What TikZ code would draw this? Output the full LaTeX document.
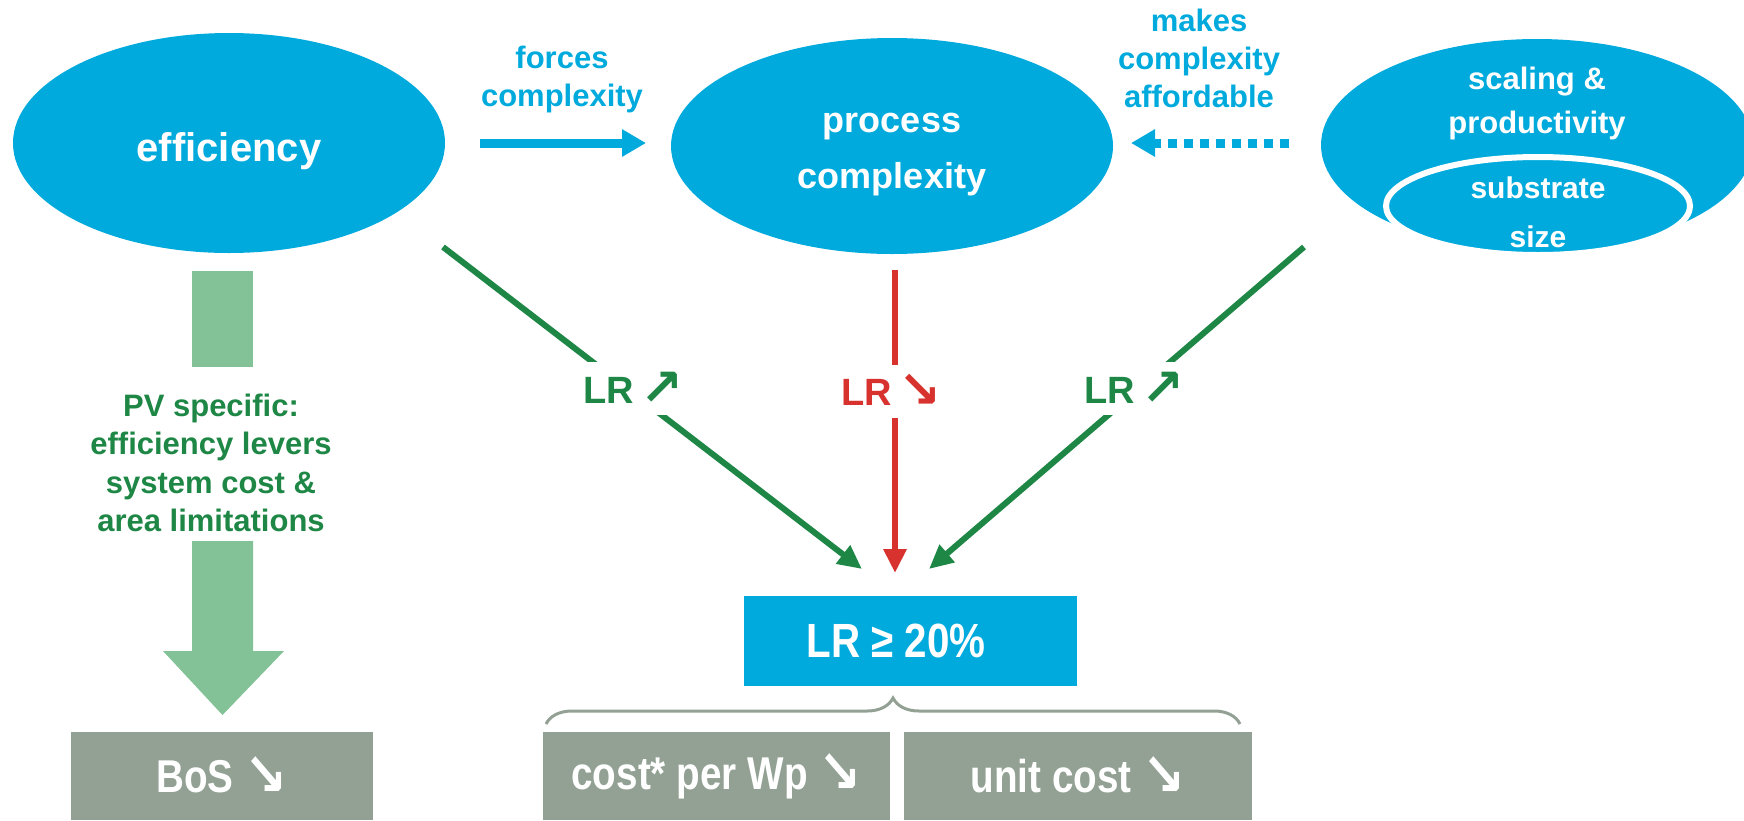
\documentclass[tikz,border=0pt]{standalone}
\usepackage{fontspec}
\setmainfont{Liberation Sans}
\newfontfamily\arrowfont{DejaVu Sans}
\newfontfamily\narrowfont[FakeStretch=0.84]{Liberation Sans}
\newfontfamily\narrowarrowfont[FakeStretch=0.86]{DejaVu Sans}
\usetikzlibrary{shapes.geometric,arrows.meta,decorations.pathreplacing}
\definecolor{cblue}{RGB}{0,170,220}
\definecolor{cgreen}{RGB}{30,135,70}
\definecolor{cred}{RGB}{215,50,45}
\definecolor{cgray}{RGB}{147,161,148}
\definecolor{chatch}{RGB}{130,194,150}
\newcommand{\myup}{\raisebox{-0.06em}{\scalebox{1.35}{\arrowfont\bfseries ↗}}}
\newcommand{\mydown}{\raisebox{-0.06em}{\scalebox{1.35}{\arrowfont\bfseries ↘}}}
\newcommand{\mydownN}{\raisebox{-0.06em}{\scalebox{1.3}{\narrowarrowfont\bfseries ↘}}}
\begin{document}
\begin{tikzpicture}[x=1pt,y=-1pt,
  blob/.style={ellipse, fill=cblue, inner sep=0pt, text=white, align=center},
  lbl/.style={text=cblue, align=center, font=\bfseries\fontsize{31}{38}\selectfont},
  gline/.style={cgreen, line width=6pt, -{Triangle[length=24pt,width=22pt]}},
  rline/.style={cred, line width=6pt, -{Triangle[length=24pt,width=22pt]}},
  lrlab/.style={fill=white, inner xsep=4pt, inner ysep=10pt, font=\bfseries\fontsize{38}{40}\selectfont},
  gbox/.style={fill=cgray, minimum height=88pt, inner sep=0pt, text=white, font=\narrowfont\bfseries\fontsize{46}{48}\selectfont},
  bluearrow/.style={cblue, line width=9pt, -{Triangle[length=24pt,width=26pt]}}
]
\useasboundingbox (0,0) rectangle (1744,820);

% ellipses
\node[blob, minimum width=432pt, minimum height=220pt] (eff) at (229,143) {};
\node[text=white, font=\bfseries\fontsize{40}{48}\selectfont] (efftxt) at (229,151) {efficiency};
\node[blob, minimum width=442pt, minimum height=216pt] (proc) at (892,146) {};
\node[text=white, align=center, font=\bfseries\fontsize{36}{56}\selectfont] (proctxt) at (892,155) {process\\complexity};
\node[blob, minimum width=432pt, minimum height=212pt] (scal) at (1537,145) {};
\node[text=white, align=center, font=\bfseries\fontsize{31}{44}\selectfont] (scaltxt) at (1537,103) {scaling \&\\productivity};
\node[ellipse, fill=cblue, draw=white, line width=6pt, minimum width=304pt, minimum height=98pt, inner sep=0pt] (sub) at (1538,206) {};
\node[text=white, align=center, font=\bfseries\fontsize{30}{49}\selectfont] (subtxt) at (1538,212) {substrate\\size};

% top labels and arrows
\node[lbl] (forces) at (562,79) {forces\\complexity};
\node[lbl] (makes) at (1199,58) {makes\\complexity\\affordable};
\coordinate (fA) at (480,143);
\coordinate (fB) at (646,143);
\draw[bluearrow] (fA) -- (fB);
\coordinate (dA) at (1289,143);
\coordinate (dB) at (1131,143);
\draw[bluearrow, dash pattern=on 9pt off 7pt] (dA) -- (dB);

% LR box
\node[fill=cblue, minimum width=333pt, minimum height=90pt, inner sep=0pt] (lr) at (910.5,641) {};
\node[text=white, font=\narrowfont\bfseries\fontsize{48}{50}\selectfont] (lrtxt) at (896,641) {LR ≥ 20\%};

% lines to LR
\coordinate (g1s) at (443,247);
\coordinate (g1e) at (862,569);
\draw[gline] (g1s) -- (g1e) node[lrlab, text=cgreen, pos=0.44, xshift=6pt] (lr1) {LR\,\myup};
\coordinate (rs) at (895,270);
\coordinate (re) at (895,573);
\draw[rline] (rs) -- (re) node[lrlab, text=cred, pos=0.40, xshift=-4pt] (lr2) {LR\,\mydown};
\coordinate (g2s) at (1304,247);
\coordinate (g2e) at (929,569);
\draw[gline] (g2s) -- (g2e) node[lrlab, text=cgreen, pos=0.44, xshift=-5pt] (lr3) {LR\,\myup};

% hatched arrow (left)
\fill[chatch] (192,271) rectangle (253,367);
\fill[chatch] (192,541) -- (253,541) -- (253,651) -- (284,651) -- (222.5,715) -- (163,651) -- (192,651) -- cycle;
\node[text=cgreen, align=center, font=\bfseries\fontsize{31}{38.5}\selectfont] (pv) at (211,463) {PV specific:\\efficiency levers\\system cost \&\\area limitations};

% brace
\coordinate (brL) at (546,724);
\coordinate (brR) at (1240,724);
\draw[cgray, line width=3pt, decorate, decoration={brace, amplitude=26pt}] (brL) -- (brR);

% bottom boxes
\node[gbox, minimum width=302pt] (bos) at (222,776) {BoS \mydownN};
\node[gbox, minimum width=347pt] (cost) at (716.5,776) {cost* per Wp \mydownN};
\node[gbox, minimum width=348pt] (unit) at (1078,776) {unit cost \mydownN};
\end{tikzpicture}
\end{document}
